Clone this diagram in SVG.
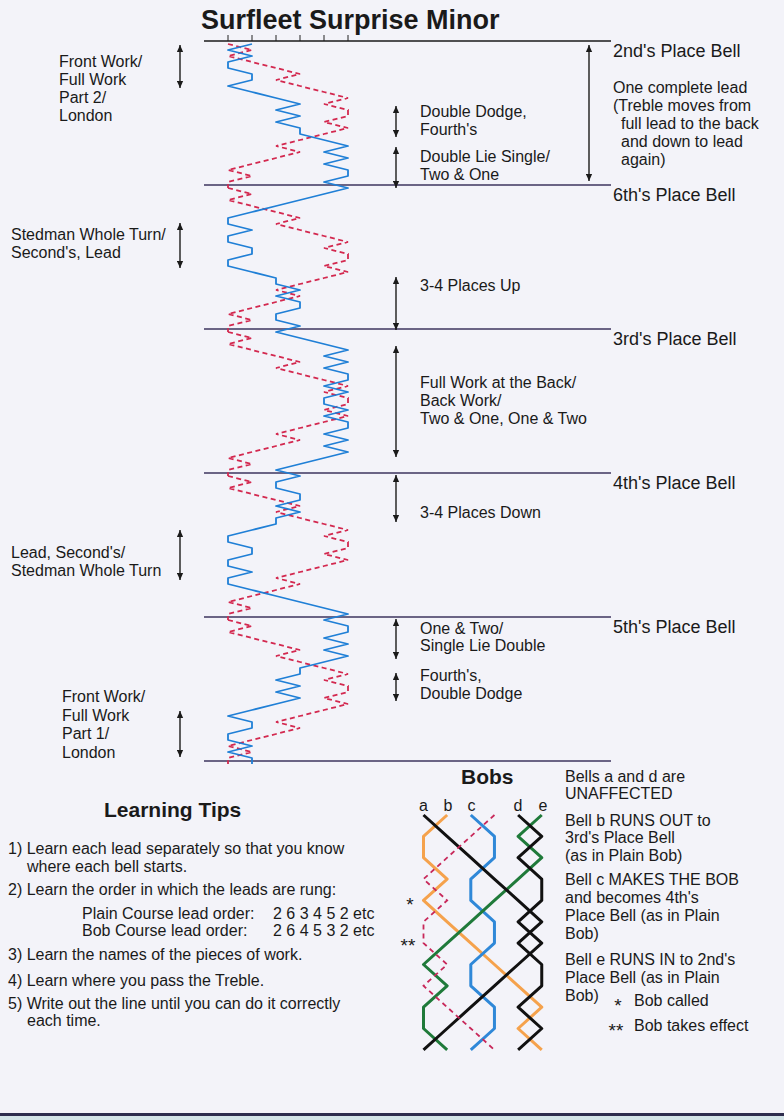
<svg xmlns="http://www.w3.org/2000/svg" width="784" height="1120" viewBox="0 0 784 1120">
<style>
text{font-family:"Liberation Sans",Arial,sans-serif;fill:#1a1a1a}
.t16{font-size:16px}
.t18{font-size:18px}
.hd{font-weight:bold}
.ast{font-size:19px}
.lead{stroke:#3c355e;stroke-width:1.3}
.tick{stroke:#222;stroke-width:1}
.arr{stroke:#1a1a1a;stroke-width:1.4;fill:none;marker-start:url(#ah);marker-end:url(#ah)}
.treble{fill:none;stroke:#d3284f;stroke-width:1.8;stroke-dasharray:5 3.5}
.bell{fill:none;stroke:#1f7fd6;stroke-width:1.8;stroke-linejoin:round}
.bb{fill:none;stroke-width:3;stroke-linejoin:round}
</style>
<defs>
<marker id="ah" viewBox="0 0 10 10" refX="10" refY="5" markerWidth="7" markerHeight="7" markerUnits="userSpaceOnUse" orient="auto-start-reverse">
<path d="M0,0.5 L10,5 L0,9.5 z" fill="#1a1a1a"/>
</marker>
<path id="trebleLead" d="M228,44 l24,6 -24,6 24,6 24,6 24,6 -24,6 24,6 24,6 24,6 -24,6 24,6 0,6 -24,6 24,6 -24,6 -24,6 -24,6 24,6 -24,6 -24,6 -24,6 24,6 -24,6 0,6"/>
</defs>
<rect width="784" height="1120" fill="#f3f3f9"/>
<rect x="0" y="1113" width="784" height="3" fill="#2e2d4e"/>
<rect x="0" y="1116" width="784" height="4" fill="#d3e4e8"/>

<g id="title"><text x="201" y="29" font-size="27" class="hd">Surfleet Surprise Minor</text></g>

<g id="grid">
<line class="tick" x1="228" y1="35" x2="228" y2="41"/>
<line class="tick" x1="252" y1="35" x2="252" y2="41"/>
<line class="tick" x1="276" y1="35" x2="276" y2="41"/>
<line class="tick" x1="300" y1="35" x2="300" y2="41"/>
<line class="tick" x1="324" y1="35" x2="324" y2="41"/>
<line class="tick" x1="348" y1="35" x2="348" y2="41"/>
<line x1="204" y1="41" x2="611" y2="41" stroke="#1a1a1a" stroke-width="1.3"/>
<line class="lead" x1="204" y1="185" x2="611" y2="185"/>
<line class="lead" x1="204" y1="329" x2="611" y2="329"/>
<line class="lead" x1="204" y1="473" x2="611" y2="473" stroke="#5e3a68"/>
<line class="lead" x1="204" y1="617" x2="611" y2="617" stroke="#5a4a6e"/>
<line class="lead" x1="204" y1="761" x2="611" y2="761" stroke="#5e3a68"/>
</g>

<g id="treble-line">
<use href="#trebleLead" class="treble"/>
<use href="#trebleLead" class="treble" transform="translate(0,144)"/>
<use href="#trebleLead" class="treble" transform="translate(0,288)"/>
<use href="#trebleLead" class="treble" transform="translate(0,432)"/>
<use href="#trebleLead" class="treble" transform="translate(0,576)"/>
</g>

<g id="blue-line">
<path class="bell" d="M252,44 l-24,6 24,6 -24,6 0,6 24,6 0,6 -24,6 24,6 24,6 24,6 -24,6 24,6 -24,6 24,6 0,6 24,6 24,6 -24,6 24,6 -24,6 24,6 0,6 -24,6 24,6
 -24,6 -24,6 -24,6 -24,6 -24,6 0,6 24,6 -24,6 0,6 24,6 0,6 -24,6 0,6 24,6 24,6 0,6 24,6 -24,6 24,6 0,6 -24,6 0,6 24,6 -24,6
 24,6 24,6 24,6 -24,6 24,6 -24,6 24,6 0,6 -24,6 24,6 -24,6 0,6 24,6 -24,6 24,6 0,6 -24,6 24,6 -24,6 24,6 -24,6 -24,6 -24,6 24,6
 -24,6 0,6 24,6 0,6 -24,6 24,6 -24,6 0,6 -24,6 -24,6 0,6 24,6 0,6 -24,6 0,6 24,6 -24,6 0,6 24,6 24,6 24,6 24,6 24,6 -24,6
 24,6 0,6 -24,6 24,6 -24,6 24,6 -24,6 -24,6 0,6 -24,6 24,6 -24,6 24,6 -24,6 -24,6 -24,6 24,6 0,6 -24,6 0,6 24,6 -24,6 24,6 0,6"/>
</g>

<g id="connectors">
<line class="arr" x1="180" y1="45" x2="180" y2="88"/>
<line class="arr" x1="180" y1="223" x2="180" y2="268"/>
<line class="arr" x1="180" y1="530" x2="180" y2="580"/>
<line class="arr" x1="180" y1="711" x2="180" y2="757"/>
<line class="arr" x1="589" y1="45" x2="589" y2="181"/>
<line class="arr" x1="396" y1="106" x2="396" y2="137"/>
<line class="arr" x1="396" y1="147" x2="396" y2="188"/>
<line class="arr" x1="396" y1="277" x2="396" y2="330"/>
<line class="arr" x1="396" y1="346" x2="396" y2="457"/>
<line class="arr" x1="396" y1="475" x2="396" y2="522"/>
<line class="arr" x1="396" y1="619" x2="396" y2="659"/>
<line class="arr" x1="396" y1="673" x2="396" y2="701"/>
</g>

<g id="labels-left" class="t16">
<text x="59" y="66.5">Front Work/</text>
<text x="59" y="84.5">Full Work</text>
<text x="59" y="102.5">Part 2/</text>
<text x="59" y="120.5">London</text>
<text x="11" y="240">Stedman Whole Turn/</text>
<text x="11" y="258">Second's, Lead</text>
<text x="11" y="558">Lead, Second's/</text>
<text x="11" y="576">Stedman Whole Turn</text>
<text x="62" y="702">Front Work/</text>
<text x="62" y="720.5">Full Work</text>
<text x="62" y="739">Part 1/</text>
<text x="62" y="757.5">London</text>
</g>

<g id="labels-work" class="t16">
<text x="420" y="117">Double Dodge,</text>
<text x="420" y="135">Fourth's</text>
<text x="420" y="161.5">Double Lie Single/</text>
<text x="420" y="179.5">Two &amp; One</text>
<text x="420" y="291">3-4 Places Up</text>
<text x="420" y="387.5">Full Work at the Back/</text>
<text x="420" y="405.5">Back Work/</text>
<text x="420" y="423.5">Two &amp; One, One &amp; Two</text>
<text x="420" y="517.5">3-4 Places Down</text>
<text x="420" y="633.5">One &amp; Two/</text>
<text x="420" y="651">Single Lie Double</text>
<text x="420" y="681">Fourth's,</text>
<text x="420" y="699">Double Dodge</text>
</g>

<g id="labels-place-bells" class="t18">
<text x="613" y="57">2nd's Place Bell</text>
<text x="613" y="201">6th's Place Bell</text>
<text x="613" y="345">3rd's Place Bell</text>
<text x="613" y="489">4th's Place Bell</text>
<text x="613" y="633">5th's Place Bell</text>
</g>

<g id="lead-note" class="t16">
<text x="613" y="93">One complete lead</text>
<text x="613" y="111">(Treble moves from</text>
<text x="621" y="129">full lead to the back</text>
<text x="621" y="147">and down to lead</text>
<text x="621" y="165">again)</text>
</g>

<g id="learning-tips" class="t16">
<text x="104" y="817" font-size="21" class="hd">Learning Tips</text>
<text x="8" y="853.5">1) Learn each lead separately so that you know</text>
<text x="27" y="871.5">where each bell starts.</text>
<text x="8" y="894.5">2) Learn the order in which the leads are rung:</text>
<text x="82" y="918.5">Plain Course lead order:</text>
<text x="273" y="918.5">2 6 3 4 5 2 etc</text>
<text x="82" y="935.5">Bob Course lead order:</text>
<text x="273" y="935.5">2 6 4 5 3 2 etc</text>
<text x="8" y="960">3) Learn the names of the pieces of work.</text>
<text x="8" y="985.5">4) Learn where you pass the Treble.</text>
<text x="8" y="1008.5">5) Write out the line until you can do it correctly</text>
<text x="27" y="1026">each time.</text>
</g>

<g id="bobs-diagram">
<text x="461" y="783.5" font-size="21" class="hd">Bobs</text>
<g class="t16" text-anchor="middle">
<text x="423.5" y="811">a</text>
<text x="448" y="811">b</text>
<text x="471.5" y="811">c</text>
<text x="518" y="811">d</text>
<text x="543" y="811">e</text>
<text class="ast" x="410" y="911">*</text>
<text class="ast" x="408" y="952">**</text>
</g>
<polyline class="bb" stroke="#f5a24c" points="447.15,815 423.5,836.4 423.5,857.7 447.15,879.1 423.5,900.4 447.15,921.8 470.8,943.1 494.45,964.5 518.1,985.8 541.75,1007.2 518.1,1028.5 541.75,1049.9"/>
<polyline class="bb" stroke="#2f88d8" points="470.8,815 494.45,836.4 494.45,857.7 470.8,879.1 470.8,900.4 494.45,921.8 494.45,943.1 470.8,964.5 470.8,985.8 494.45,1007.2 494.45,1028.5 470.8,1049.9"/>
<polyline class="bb" stroke="#1f7a3a" points="541.75,815 518.1,836.4 541.75,857.7 518.1,879.1 494.45,900.4 470.8,921.8 447.15,943.1 423.5,964.5 447.15,985.8 423.5,1007.2 423.5,1028.5 447.15,1049.9"/>
<polyline class="bb" stroke="#111" points="423.5,815 447.15,836.4 470.8,857.7 494.45,879.1 518.1,900.4 541.75,921.8 518.1,943.1 541.75,964.5 541.75,985.8 518.1,1007.2 541.75,1028.5 518.1,1049.9"/>
<polyline class="bb" stroke="#111" points="518.1,815 541.75,836.4 518.1,857.7 541.75,879.1 541.75,900.4 518.1,921.8 541.75,943.1 518.1,964.5 494.45,985.8 470.8,1007.2 447.15,1028.5 423.5,1049.9"/>
<polyline fill="none" stroke="#c8285a" stroke-width="1.8" stroke-dasharray="5 4" points="494.45,815 470.8,836.4 447.15,857.7 423.5,879.1 447.15,900.4 423.5,921.8 423.5,943.1 447.15,964.5 423.5,985.8 447.15,1007.2 470.8,1028.5 494.45,1049.9"/>
</g>

<g id="bobs-notes" class="t16">
<text x="565" y="782">Bells a and d are</text>
<text x="565" y="799">UNAFFECTED</text>
<text x="565" y="825.5">Bell b RUNS OUT to</text>
<text x="565" y="843">3rd's Place Bell</text>
<text x="565" y="860.5">(as in Plain Bob)</text>
<text x="565" y="884.5">Bell c MAKES THE BOB</text>
<text x="565" y="902.5">and becomes 4th's</text>
<text x="565" y="920.5">Place Bell (as in Plain</text>
<text x="565" y="938.5">Bob)</text>
<text x="565" y="964.5">Bell e RUNS IN to 2nd's</text>
<text x="565" y="982.5">Place Bell (as in Plain</text>
<text x="565" y="1000.5">Bob)</text>
<text class="ast" x="618" y="1012" text-anchor="middle">*</text>
<text x="634" y="1005.5">Bob called</text>
<text class="ast" x="616" y="1037" text-anchor="middle">**</text>
<text x="634" y="1030.5">Bob takes effect</text>
</g>
</svg>
